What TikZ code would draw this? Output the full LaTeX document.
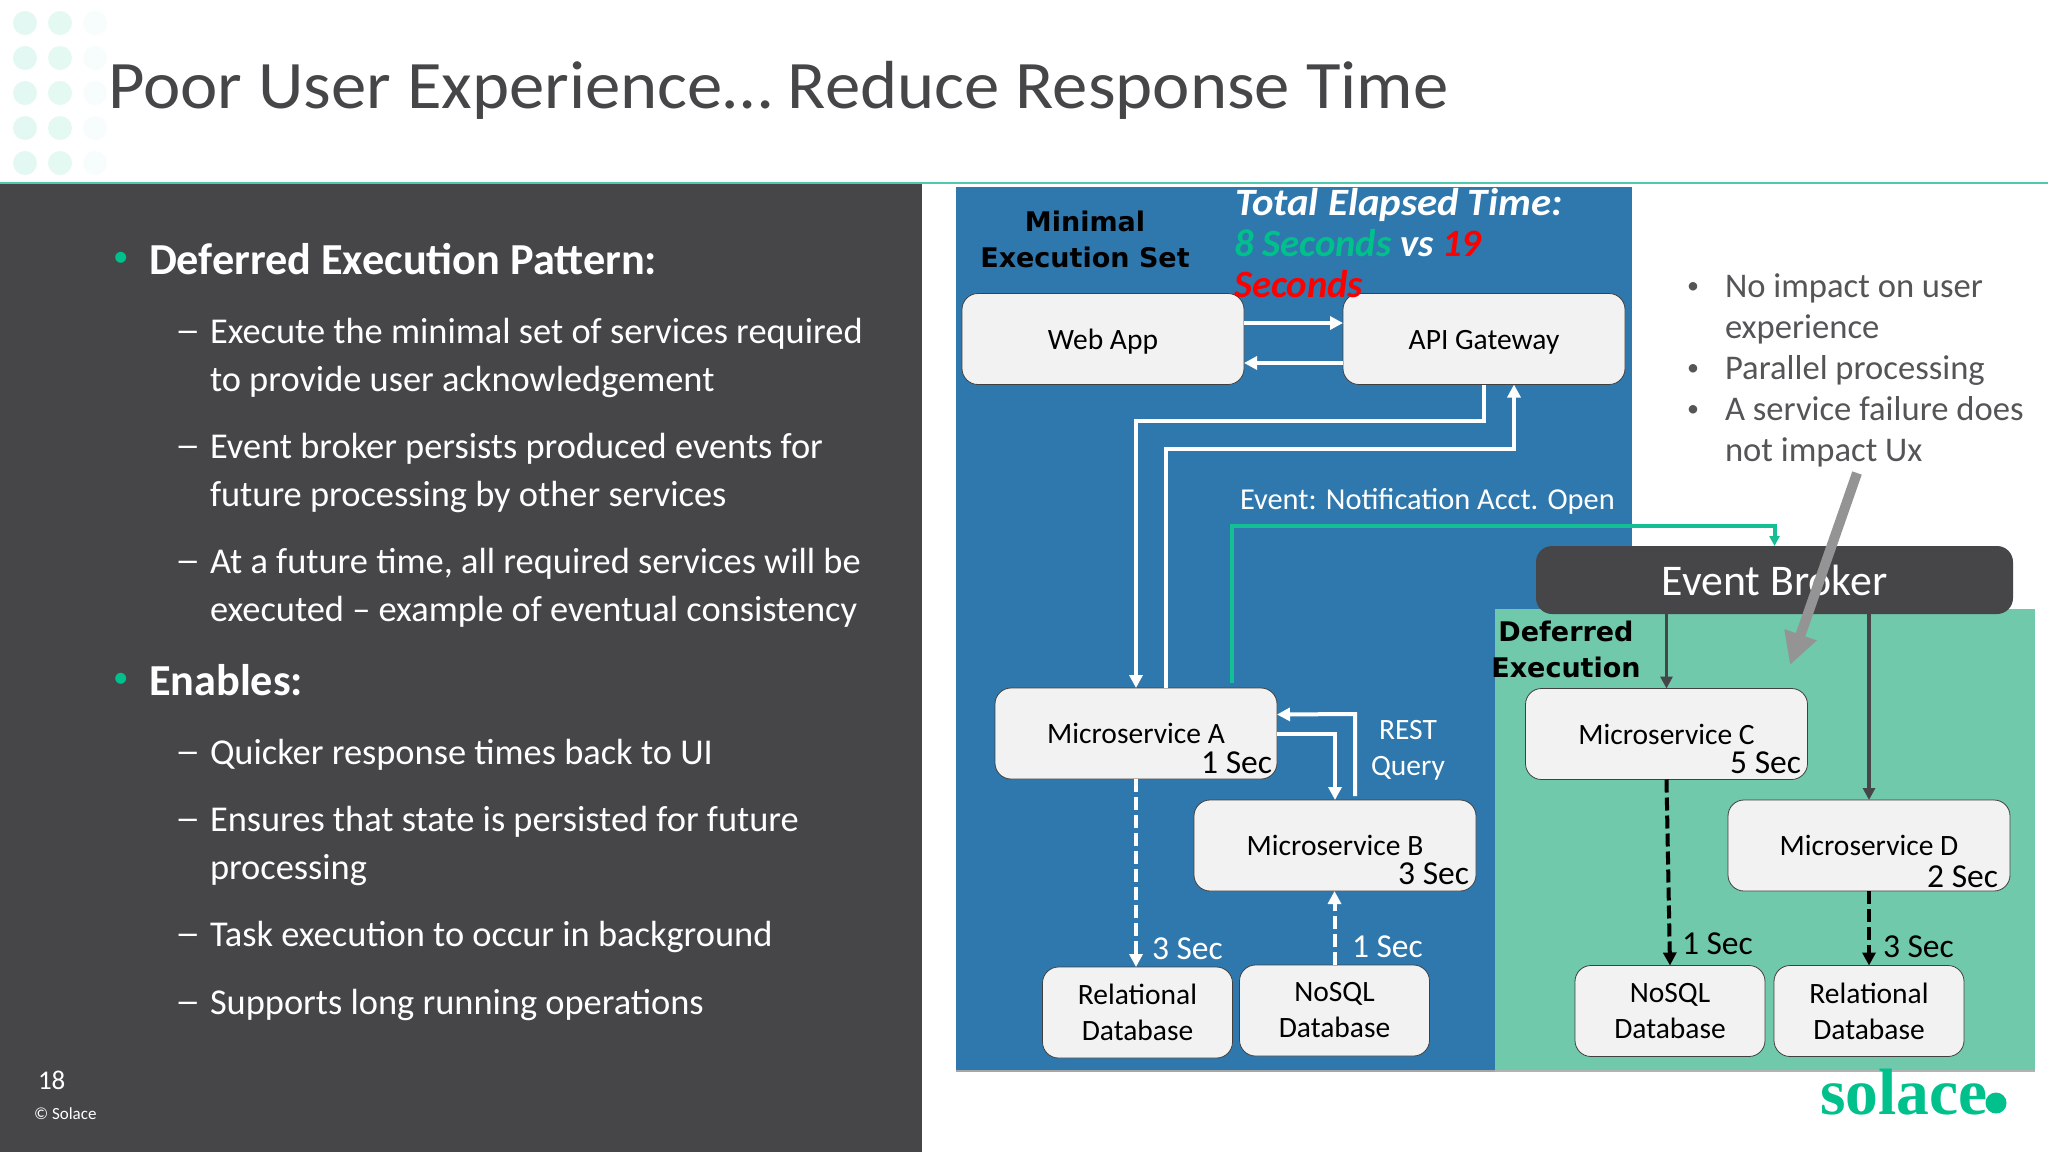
\documentclass[tikz,border=0pt]{standalone}
\usepackage{fontspec}
\setmainfont{Carlito}
\newfontfamily\widefont{DejaVu Sans}
\newfontfamily\logofont{Liberation Serif}
\usetikzlibrary{arrows.meta}
\newcommand{\fsz}[2]{\fontsize{#1pt}{#2pt}\selectfont}
\definecolor{slate}{HTML}{464648}
\definecolor{panelblue}{HTML}{2F78AE}
\definecolor{panelgreen}{HTML}{6FC9AA}
\definecolor{solgreen}{HTML}{00C08B}
\definecolor{eventgreen}{HTML}{14BF95}
\definecolor{ruleteal}{HTML}{4CC9AE}
\definecolor{boxfill}{HTML}{F2F2F3}
\definecolor{graytext}{HTML}{555557}
\tikzset{
  x=1pt,y=-1pt,
  every node/.style={inner sep=0pt,outer sep=0pt},
  svcbox/.style={draw=black!75,line width=0.8pt,fill=boxfill,rounded corners=16pt,minimum width=282pt,minimum height=91pt,font=\fsz{29.5}{36},text=black},
  dbbox/.style={draw=black!75,line width=0.8pt,fill=boxfill,rounded corners=16pt,minimum width=190pt,minimum height=91pt,font=\fsz{29.5}{36},text=black,align=center},
  secin/.style={anchor=east,font=\fsz{33.5}{36},text=black},
  secout/.style={anchor=west,font=\fsz{33.5}{36},text=white},
  secdark/.style={anchor=west,font=\fsz{33.5}{36},text=black},
  wline/.style={draw=white,line width=4pt},
  warrow/.style={wline,-{Triangle[length=13pt,width=13pt]}},
  wdash/.style={wline,dash pattern=on 13pt off 5pt,-{Triangle[length=13pt,width=13pt]}},
  darrow/.style={draw=slate,line width=3.5pt,-{Triangle[length=12pt,width=12pt]}},
  bdash/.style={draw=black,line width=4pt,dash pattern=on 13pt off 5pt,-{Triangle[length=13pt,width=13pt]}},
  head/.style={anchor=west,font=\fsz{44.3}{48}\bfseries,text=white},
  sub/.style={anchor=west,font=\fsz{36.4}{48},text=white,align=left},
  dashmark/.style={anchor=west,font=\fsz{36.4}{48},text=white},
  bull/.style={anchor=west,font=\fsz{31}{36},text=solgreen},
  note/.style={anchor=west,font=\fsz{34.6}{41},text=graytext,align=left},
  notebull/.style={anchor=center,font=\fsz{24}{30},text=graytext},
  capt/.style={align=center,font=\widefont\bfseries\fsz{27}{36},text=black},
  elapsed/.style={anchor=west,font=\fsz{38.7}{41}\bfseries\itshape},
  dot/.style={circle,minimum size=24pt,draw=none},
}
\begin{document}
\begin{tikzpicture}
\useasboundingbox (0,0) rectangle (2048,1152);
\fill[white] (0,0) rectangle (2048,1152);
% decorative dots
\foreach \yy in {23,58,93,128,163}{
  \node[dot,fill=solgreen!11] at (25,\yy) {};
  \node[dot,fill=solgreen!10] at (60,\yy) {};
  \node[dot,fill=solgreen!3] at (95,\yy) {};
}
\node[anchor=base west,font=\fsz{68}{70},text=slate] (title) at (108,108) {\scalebox{1.04}[1]{Poor User Experience… Reduce Response Time}};
\draw[draw=ruleteal,line width=2pt] (0,182.5) -- (2048,182.5);
% left panel
\fill[slate] (0,184) rectangle (922,1152);
\node[bull] at (113,259) {\strut•};
\node[head] at (149,259) {Deferred Execution Pattern:};
\node[dashmark] at (175,333) {\strut\scalebox{1.4}[1]{–}};
\node[sub] at (210,357.5) {Execute the minimal set of services required\\to provide user acknowledgement};
\node[dashmark] at (175,448) {\strut\scalebox{1.4}[1]{–}};
\node[sub] at (210,472.5) {Event broker persists produced events for\\future processing by other services};
\node[dashmark] at (175,563) {\strut\scalebox{1.4}[1]{–}};
\node[sub] at (210,587.5) {At a future time, all required services will be\\executed – example of eventual consistency};
\node[bull] at (113,680) {\strut•};
\node[head] at (149,680) {Enables:};
\node[dashmark] at (175,754) {\strut\scalebox{1.4}[1]{–}};
\node[sub] at (210,754.5) {Quicker response times back to UI};
\node[dashmark] at (175,821) {\strut\scalebox{1.4}[1]{–}};
\node[sub] at (210,845.5) {Ensures that state is persisted for future\\processing};
\node[dashmark] at (175,936) {\strut\scalebox{1.4}[1]{–}};
\node[sub] at (210,936.5) {Task execution to occur in background};
\node[dashmark] at (175,1004) {\strut\scalebox{1.4}[1]{–}};
\node[sub] at (210,1004.5) {Supports long running operations};
\node[anchor=west,font=\fsz{27}{30},text=white] at (38,1080) {18};
\node[anchor=west,font=\fsz{17}{20},text=white] at (34,1114) {© Solace};
% panels
\fill[black!35] (956,189) rectangle (1632,1072);
\fill[panelblue] (956,187) rectangle (1632,1070);
\fill[black!30] (1495,611) rectangle (2035,1072);
\fill[panelgreen] (1495,609) rectangle (2035,1070);
% boxes
\node[svcbox] (web) at (1103,339) {\raisebox{0pt}[20pt][0pt]{Web App}};
\node[svcbox] (api) at (1484,339) {\raisebox{0pt}[20pt][0pt]{API Gateway}};
\node[svcbox] (msa) at (1136,733.5) {Microservice A};
\node[svcbox] (msb) at (1335,845.5) {Microservice B};
\node[svcbox] (msc) at (1666.5,734) {Microservice C};
\node[svcbox] (msd) at (1869,845.5) {Microservice D};
\node[dbbox] (rel1) at (1137.5,1012.5) {Relational\\Database};
\node[dbbox] (nos1) at (1334.5,1010.5) {NoSQL\\Database};
\node[dbbox] (nos2) at (1670,1011) {NoSQL\\Database};
\node[dbbox] (rel2) at (1869,1011) {Relational\\Database};
\node[draw=none,fill=slate,rounded corners=16pt,minimum width=477pt,minimum height=68pt,font=\fsz{43.8}{46},text=white] (broker) at (1774.5,580) {Event Broker};
% connectors
\draw[warrow] ([yshift=16pt]web.east) -- ([yshift=16pt]api.west);
\draw[warrow] ([yshift=-24pt]api.west) -- ([yshift=-24pt]web.east);
\draw[warrow] (api.south) |- ([yshift=-36pt]api.south -| msa.north) -- (msa.north);
\draw[warrow] ([xshift=30pt]msa.north) |- ([xshift=30pt,yshift=-64pt]api.south) -- ([xshift=30pt]api.south);
\draw[wdash] (msa.south) -- (rel1.north -| msa.south);
\draw[wdash] (nos1.north) -- (msb.south -| nos1.north);
\draw[warrow] (msa.east) -| (msb.north);
\draw[warrow] ([xshift=20pt,yshift=4pt]msb.north) -- ([xshift=20pt,yshift=86pt]msb.north) -- ([yshift=19pt]msa.east);
\draw[draw=eventgreen,line width=4pt,-{Triangle[length=10pt,width=10pt]}] ([xshift=96pt,yshift=5pt]msa.north) |- ([yshift=20pt]broker.north) -- (broker.north);
\draw[darrow] (broker.south -| msc.north) -- (msc.north);
\draw[darrow] (broker.south -| msd.north) -- (msd.north);
\draw[bdash] (msc.south) -- (nos2.north);
\draw[bdash] (msd.south) -- (rel2.north);
% labels
\node[secin] at (1272,763) {1 Sec};
\node[secin] at (1469,874) {3 Sec};
\node[secin] at (1801,763) {5 Sec};
\node[secin] at (1998,877) {2 Sec};
\node[secout] at (1152,949) {3 Sec};
\node[secout] at (1352,947) {1 Sec};
\node[secdark] at (1682,944) {1 Sec};
\node[secdark] at (1883,947) {3 Sec};
\node[align=center,font=\fsz{29.5}{36},text=white] at (1408,750) {REST\\Query};
\node[anchor=west,font=\fsz{30.4}{34},text=white] at (1240,501) {Event: Notification Acct. Open};
\node[capt] at (1085,239) {Minimal\\Execution Set};
\node[capt] at (1566,649) {Deferred\\Execution};
\node[elapsed,text=white] at (1235,205) {\scalebox{1.055}[1]{Total Elapsed Time:}};
\node[elapsed,text=white] at (1234,243) {\textcolor{solgreen}{8 Seconds} vs \textcolor{red}{19}};
\node[elapsed,text=red] at (1234,284) {Seconds};
% notes
\node[notebull] at (1693,288) {•};
\node[note] at (1725,308.5) {No impact on user\\experience};
\node[notebull] at (1693,370) {•};
\node[note] at (1725,370.5) {Parallel processing};
\node[notebull] at (1693,411) {•};
\node[note] at (1725,431.5) {A service failure does\\not impact Ux};
% callout
\coordinate (calloutstart) at (1857,473);
\coordinate (callouttip) at (1790,665);
\draw[draw=black!42,line width=10pt,-{Triangle[length=32pt,width=32pt]}] (calloutstart) -- (callouttip);
% logo
\node[anchor=base west,font=\logofont\bfseries\fsz{65.5}{70},text=solgreen] (logo) at (1820,1114) {solace};
\fill[solgreen] (1996,1103) circle (10.5);
\end{tikzpicture}
\end{document}
